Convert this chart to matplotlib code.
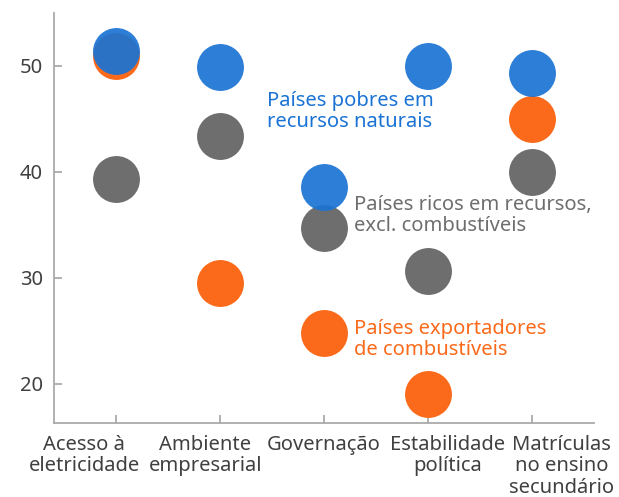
import matplotlib.pyplot as plt
from matplotlib.transforms import ScaledTranslation, blended_transform_factory

# categorias e valores
cats = ['Acesso à\neletricidade', 'Ambiente\nempresarial', 'Governação',
        'Estabilidade\npolítica', 'Matrículas\nno ensino\nsecundário']
pobres = [51.4, 49.9, 38.6, 50.0, 49.3]
ricos = [39.3, 43.4, 34.7, 30.6, 40.0]
export = [50.9, 29.5, 24.8, 19.0, 45.0]

cBlue = '#1a73d4'
cOrg = '#fa6a1a'
cGry = '#6e6e6e'

plt.rcParams['font.family'] = ['Noto Sans', 'DejaVu Sans']

fig = plt.figure(figsize=(6.19, 4.97), dpi=100)
ax = fig.add_axes([0.087, 0.149, 0.873, 0.825])

xs = range(len(cats))
sz = 1140
ax.scatter(xs, export, s=sz, color=cOrg, linewidths=0, zorder=3)
ax.scatter(xs, ricos, s=sz, color=cGry, linewidths=0, zorder=3)
ax.scatter(xs, pobres, s=sz, color=cBlue, alpha=0.92, linewidths=0, zorder=4)

ax.set_xlim(-0.6, 4.6)
ax.set_ylim(16.3, 55)
ax.set_yticks([20, 30, 40, 50])
ax.set_xticks(list(xs))
ax.set_xticklabels([])

# rótulos do eixo x, afastados para não se sobreporem (px)
shift = [-32, -15, 0, 20, 30]
trBl = blended_transform_factory(ax.transData, ax.transAxes)
for x, lab, dx in zip(xs, cats, shift):
    tr = trBl + ScaledTranslation(dx / 100., -0.12, fig.dpi_scale_trans)
    ax.text(x, 0, lab, transform=tr, fontsize=14.5, color='#404040',
            ha='center', va='top', multialignment='center', linespacing=1.1)

for s in ['top', 'right']:
    ax.spines[s].set_visible(False)
for s in ['left', 'bottom']:
    ax.spines[s].set_color('#aaaaaa')
    ax.spines[s].set_linewidth(1.3)
ax.tick_params(axis='both', direction='in', length=6, width=1.3, color='#aaaaaa')
ax.tick_params(axis='y', labelsize=14.5, labelcolor='#404040', pad=8)

ax.text(1.45, 45.7, 'Países pobres em\nrecursos naturais', color=cBlue,
        fontsize=14.5, va='center', ha='left', linespacing=1.05)
ax.text(2.29, 35.9, 'Países ricos em recursos,\nexcl. combustíveis', color=cGry,
        fontsize=14.5, va='center', ha='left', linespacing=1.05)
ax.text(2.29, 24.15, 'Países exportadores\nde combustíveis', color=cOrg,
        fontsize=14.5, va='center', ha='left', linespacing=1.05)

plt.savefig('out.png', dpi=100)
